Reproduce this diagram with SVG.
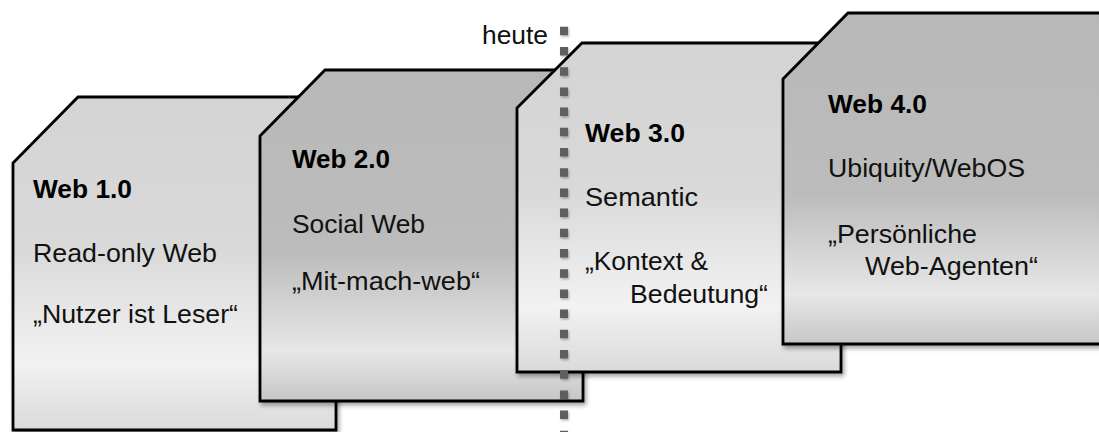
<svg xmlns="http://www.w3.org/2000/svg" width="1099" height="432" viewBox="0 0 1099 432">
<style>
  .box { stroke: #000; stroke-width: 2.8; stroke-linejoin: miter; filter: url(#shadow); }
  .light { fill: url(#gLight); }
  .dark { fill: url(#gDark); }
  text { font-family: "Liberation Sans", Arial, sans-serif; font-size: 26.5px; fill: #111; }
  .title { font-weight: bold; fill: #000; }
</style>
<defs>
  <linearGradient id="gLight" x1="0" y1="0" x2="0" y2="1">
    <stop offset="0" stop-color="#d4d4d4"/>
    <stop offset="0.45" stop-color="#d9d9d9"/>
    <stop offset="0.8" stop-color="#f2f2f2"/>
    <stop offset="1" stop-color="#dadada"/>
  </linearGradient>
  <linearGradient id="gDark" x1="0" y1="0" x2="0" y2="1">
    <stop offset="0" stop-color="#b8b8b8"/>
    <stop offset="0.55" stop-color="#bcbcbc"/>
    <stop offset="0.85" stop-color="#e7e7e7"/>
    <stop offset="1" stop-color="#c6c6c6"/>
  </linearGradient>
  <filter id="shadow" x="-5%" y="-5%" width="115%" height="115%">
    <feDropShadow dx="2" dy="3" stdDeviation="2" flood-color="#000" flood-opacity="0.35"/>
  </filter>
  <filter id="lineShadow" filterUnits="userSpaceOnUse" x="540" y="0" width="60" height="432">
    <feDropShadow dx="1" dy="1.5" stdDeviation="1" flood-color="#000" flood-opacity="0.3"/>
  </filter>
</defs>

<g id="web1">
  <path class="box light" d="M13,163 L78,97 L336,97 L336,430 L13,430 Z"/>
  <text class="title" x="33" y="198" textLength="99" lengthAdjust="spacingAndGlyphs">Web 1.0</text>
  <text x="33" y="262" textLength="184" lengthAdjust="spacingAndGlyphs">Read-only Web</text>
  <text x="33" y="323" textLength="205" lengthAdjust="spacingAndGlyphs">„Nutzer ist Leser“</text>
</g>

<g id="web2">
  <path class="box dark" d="M260,136 L325,70 L583,70 L583,401 L260,401 Z"/>
  <text class="title" x="292" y="168" textLength="98" lengthAdjust="spacingAndGlyphs">Web 2.0</text>
  <text x="292" y="233" textLength="133" lengthAdjust="spacingAndGlyphs">Social Web</text>
  <text x="292" y="290" textLength="188" lengthAdjust="spacingAndGlyphs">„Mit-mach-web“</text>
</g>

<g id="web3">
  <path class="box light" d="M517,108 L582,43 L841,43 L841,372 L517,372 Z"/>
  <text class="title" x="585" y="141.5" textLength="100" lengthAdjust="spacingAndGlyphs">Web 3.0</text>
  <text x="585" y="206" textLength="113" lengthAdjust="spacingAndGlyphs">Semantic</text>
  <text x="585" y="270" textLength="123" lengthAdjust="spacingAndGlyphs">„Kontext &amp;</text>
  <text x="630" y="303" textLength="138" lengthAdjust="spacingAndGlyphs">Bedeutung“</text>
</g>

<g id="web4">
  <path class="box dark" d="M783,79 L848,13 L1110,13 L1110,344 L783,344 Z"/>
  <text class="title" x="828" y="113" textLength="99" lengthAdjust="spacingAndGlyphs">Web 4.0</text>
  <text x="828" y="177" textLength="197" lengthAdjust="spacingAndGlyphs">Ubiquity/WebOS</text>
  <text x="828" y="242.5" textLength="149" lengthAdjust="spacingAndGlyphs">„Persönliche</text>
  <text x="865" y="275" textLength="173" lengthAdjust="spacingAndGlyphs">Web-Agenten“</text>
</g>

<g id="connectors">
  <path d="M564,26.8 V432" fill="none" stroke="#5e5e5e" stroke-width="8" stroke-dasharray="8.5 11.7" filter="url(#lineShadow)"/>
</g>

<g id="heute">
  <text x="548" y="44" text-anchor="end" textLength="66" lengthAdjust="spacingAndGlyphs">heute</text>
</g>
</svg>
